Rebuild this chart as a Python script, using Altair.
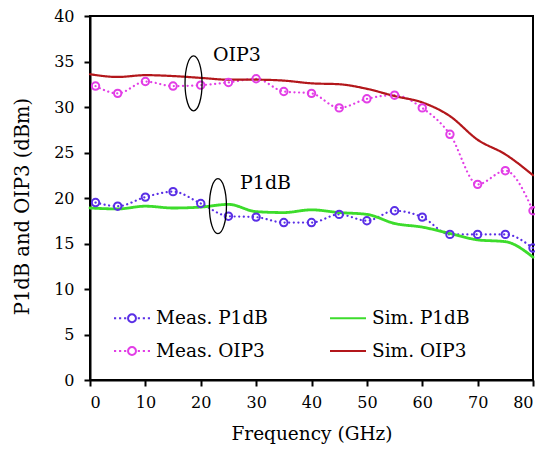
import altair as alt
import pandas as pd

# ---------------- data ----------------
meas_freq = [1, 5, 10, 15, 20, 25, 30, 35, 40, 45, 50, 55, 60, 65, 70, 75, 80]
meas_p1db = [19.5, 19.1, 20.1, 20.7, 19.4, 18.0, 17.9, 17.3, 17.3, 18.2, 17.5, 18.6, 17.9, 16.0, 16.0, 16.0, 14.5]
meas_oip3 = [32.3, 31.5, 32.8, 32.3, 32.4, 32.7, 33.1, 31.7, 31.5, 29.9, 30.9, 31.3, 29.9, 27.0, 21.5, 23.0, 18.6]

sim_freq = [0, 5, 10, 15, 20, 25, 30, 35, 40, 45, 50, 55, 60, 65, 70, 75, 80]
sim_p1db = [18.9, 18.8, 19.1, 18.9, 19.0, 19.3, 18.5, 18.4, 18.7, 18.4, 18.2, 17.2, 16.8, 16.1, 15.4, 15.2, 13.5]
sim_oip3 = [33.6, 33.3, 33.5, 33.4, 33.2, 33.0, 33.0, 32.9, 32.6, 32.5, 32.0, 31.2, 30.5, 29.0, 26.4, 24.8, 22.5]

series_names = ["Meas. P1dB", "Meas. OIP3", "Sim. P1dB", "Sim. OIP3"]
series_colors = ["#5a2fe6", "#e23ee6", "#3ddc2c", "#b3171b"]

ann_labels = ["OIP3", "P1dB"]
ann_text_x = [22.2, 27.1]
ann_text_y = [35.1, 21.0]
ann_ell_x = [18.7, 23.1]
ann_ell_y = [32.6, 19.1]

# ---------------- tables ----------------
rows = []
for f, v in zip(meas_freq, meas_p1db):
    rows.append({"f": f, "v": v, "series": "Meas. P1dB", "kind": "meas"})
for f, v in zip(meas_freq, meas_oip3):
    rows.append({"f": f, "v": v, "series": "Meas. OIP3", "kind": "meas"})
for f, v in zip(sim_freq, sim_p1db):
    rows.append({"f": f, "v": v, "series": "Sim. P1dB", "kind": "sim"})
for f, v in zip(sim_freq, sim_oip3):
    rows.append({"f": f, "v": v, "series": "Sim. OIP3", "kind": "sim"})
df = pd.DataFrame(rows)

ann_df = pd.DataFrame({"label": ann_labels, "tx": ann_text_x, "ty": ann_text_y,
                       "ex": ann_ell_x, "ey": ann_ell_y})

FONT = "DejaVu Serif"

meas_path = ("M-1,0h0.12M-0.72,0h0.12M-0.44,0h0.12"
             "M0.32,0h0.12M0.6,0h0.12M0.88,0h0.12"
             "M0.22,0A0.22,0.22 0 1,1 -0.22,0A0.22,0.22 0 1,1 0.22,0Z")
sim_path = "M-1,0L1,0"
ellipse_path = "M0,-1A0.31,1 0 1,1 0,1A0.31,1 0 1,1 0,-1Z"

xscale = alt.Scale(domain=[0, 80], nice=False)
yscale = alt.Scale(domain=[0, 40], nice=False)
xenc = alt.X("f:Q", scale=xscale,
             axis=alt.Axis(title="Frequency (GHz)", values=list(range(0, 81, 10)),
                           labelPadding=8, titleFontSize=18.5, titlePadding=14))
yenc = alt.Y("v:Q", scale=yscale,
             axis=alt.Axis(title="P1dB and OIP3 (dBm)", values=list(range(0, 41, 5)),
                           labelPadding=10, titleFontSize=19.5, titlePadding=21, titleY=190))

color_enc = alt.Color(
    "series:N",
    scale=alt.Scale(domain=series_names, range=series_colors),
    legend=alt.Legend(
        title=None, orient="none", legendX=23, legendY=283, columns=2,
        columnPadding=58, rowPadding=4, labelFont=FONT, labelFontSize=18.5,
        labelColor="black", symbolSize=1296, symbolStrokeWidth=2,
        symbolFillColor="transparent", labelOffset=5, padding=0,
    ),
)
shape_enc = alt.Shape(
    "series:N",
    scale=alt.Scale(domain=series_names,
                    range=[meas_path, meas_path, sim_path, sim_path]),
    legend=alt.Legend(title=None),
)

base = alt.Chart(df)

lines = base.mark_line(interpolate="monotone", strokeCap="round").encode(
    x=xenc, y=yenc, color=color_enc, detail="series:N",
    strokeDash=alt.condition(alt.datum.kind == "meas", alt.value([0.1, 4.5]), alt.value([1, 0])),
    strokeWidth=alt.condition(alt.datum.series == "Sim. P1dB", alt.value(2.8), alt.value(2.2)),
)

points = base.transform_filter(alt.datum.kind == "meas").mark_point(
    filled=False, size=55, strokeWidth=2, opacity=1
).encode(x=xenc, y=yenc, color=color_enc)

legend_dummy = base.transform_filter("false").mark_point(filled=False).encode(
    x=xenc, y=yenc, color=color_enc, shape=shape_enc
)

ellipses = alt.Chart(ann_df).mark_point(
    shape=ellipse_path, size=3025, filled=False, stroke="black", strokeWidth=1.3, opacity=1
).encode(x=alt.X("ex:Q", scale=xscale), y=alt.Y("ey:Q", scale=yscale))

texts = alt.Chart(ann_df).mark_text(
    align="left", baseline="alphabetic", font=FONT, fontSize=19, color="black"
).encode(x=alt.X("tx:Q", scale=xscale), y=alt.Y("ty:Q", scale=yscale), text="label:N")

chart = alt.layer(lines, points, legend_dummy, ellipses, texts).properties(
    width=443, height=364,
    autosize=alt.AutoSizeParams(type="none"),
    padding={"left": 82, "top": 8, "right": 2, "bottom": 70},
).configure_view(
    stroke="black", strokeWidth=2
).configure_axis(
    domainColor="black", domainWidth=2, tickColor="black", tickWidth=2, tickSize=6,
    grid=False, labelFont=FONT, labelFontSize=16, labelColor="black",
    titleFont=FONT, titleFontWeight="normal", titleColor="black",
)

chart.save("out.html", embed_options={"renderer": "svg", "actions": False})
